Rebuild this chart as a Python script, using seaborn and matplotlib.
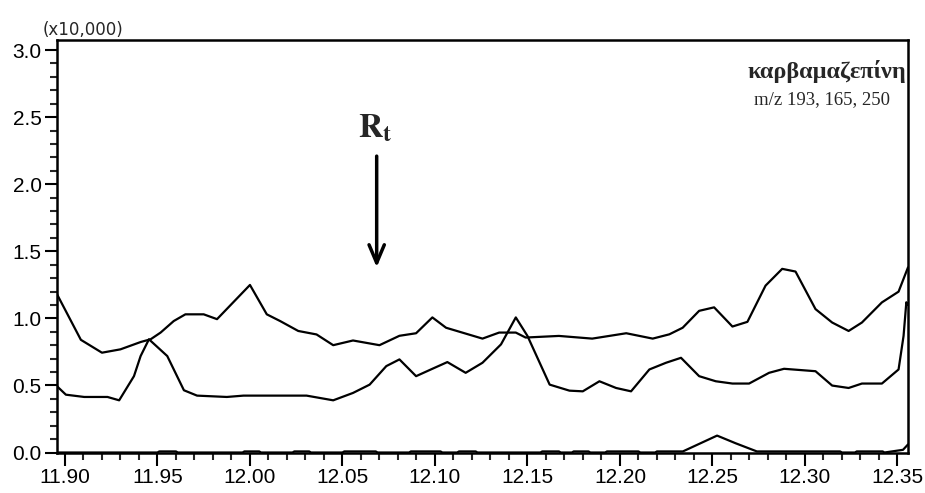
import seaborn as sns
import pandas as pd
import matplotlib.pyplot as plt
from matplotlib.ticker import MultipleLocator

# retention time (min) and intensity (x10,000)
time_a = [11.8957, 11.9086, 11.920, 11.930, 11.941, 11.9463, 11.9517, 11.9588, 11.9651,
          11.975, 11.9822, 12.000, 12.0091, 12.0163, 12.0261, 12.036, 12.045, 12.0557,
          12.070, 12.0808, 12.0898, 12.0986, 12.106, 12.1257, 12.1347, 12.1437, 12.149,
          12.167, 12.185, 12.2034, 12.2177, 12.2267, 12.2339, 12.2428, 12.2509, 12.2608,
          12.2689, 12.2787, 12.2877, 12.2949, 12.3057, 12.3147, 12.3236, 12.3308, 12.3416,
          12.3506, 12.3557]
int_a = [1.18, 0.84, 0.744, 0.769, 0.824, 0.844, 0.894, 0.98, 1.03,
         1.03, 0.994, 1.249, 1.03, 0.98, 0.906, 0.88, 0.80, 0.835,
         0.80, 0.87, 0.889, 1.007, 0.93, 0.849, 0.894, 0.894, 0.857,
         0.869, 0.849, 0.889, 0.849, 0.881, 0.93, 1.056, 1.082, 0.939,
         0.974, 1.244, 1.369, 1.349, 1.069, 0.969, 0.906, 0.969, 1.119,
         1.199, 1.38]

time_b = [11.8957, 11.9005, 11.9104, 11.923, 11.9293, 11.9373, 11.9409, 11.9454, 11.9553,
          11.9643, 11.9714, 11.9875, 11.9965, 12.0306, 12.045, 12.0557, 12.0647, 12.0737,
          12.0808, 12.0898, 12.0986, 12.1067, 12.1166, 12.1257, 12.1357, 12.1437, 12.150,
          12.162, 12.1727, 12.1799, 12.1889, 12.1979, 12.206, 12.2159, 12.2249, 12.2330,
          12.2428, 12.2518, 12.2608, 12.2698, 12.2806, 12.2887, 12.3057, 12.3147, 12.3236,
          12.3308, 12.3416, 12.3506, 12.3533, 12.3548, 12.3557]
int_b = [0.494, 0.431, 0.414, 0.414, 0.389, 0.569, 0.719, 0.844, 0.719,
         0.464, 0.424, 0.414, 0.424, 0.424, 0.389, 0.444, 0.506, 0.644,
         0.694, 0.569, 0.624, 0.674, 0.594, 0.669, 0.806, 1.007, 0.869,
         0.506, 0.461, 0.456, 0.531, 0.481, 0.456, 0.619, 0.669, 0.706,
         0.569, 0.531, 0.514, 0.514, 0.594, 0.624, 0.606, 0.499, 0.481,
         0.514, 0.514, 0.619, 0.869, 1.12, 1.10]

time_c = [11.8957, 11.950, 11.951, 11.960, 11.961, 11.996, 11.997, 12.005, 12.006,
          12.023, 12.024, 12.032, 12.033, 12.050, 12.051, 12.068, 12.069, 12.086,
          12.087, 12.103, 12.104, 12.112, 12.113, 12.122, 12.123, 12.157, 12.158,
          12.167, 12.168, 12.174, 12.175, 12.183, 12.184, 12.192, 12.193, 12.210,
          12.211, 12.219, 12.220, 12.234, 12.2525, 12.2625, 12.2740, 12.319, 12.320,
          12.327, 12.328, 12.342, 12.343, 12.353, 12.3557]
int_c = [0, 0, 0.008, 0.008, 0, 0, 0.008, 0.008, 0,
         0, 0.008, 0.008, 0, 0, 0.008, 0.008, 0, 0,
         0.008, 0.008, 0, 0, 0.008, 0.008, 0, 0, 0.008,
         0.008, 0, 0, 0.008, 0.008, 0, 0, 0.008, 0.008,
         0, 0, 0.008, 0.008, 0.126, 0.069, 0.008, 0.008, 0,
         0, 0.008, 0.008, 0, 0.02, 0.06]

x_ticks = [11.90, 11.95, 12.00, 12.05, 12.10, 12.15, 12.20, 12.25, 12.30, 12.35]
y_ticks = [0.0, 0.5, 1.0, 1.5, 2.0, 2.5, 3.0]

sns.set_style("ticks")
plt.rcParams['font.family'] = ['Liberation Sans', 'DejaVu Sans']
plt.rcParams['mathtext.fontset'] = 'stix'

fig = plt.figure(figsize=(9.25, 4.93), dpi=100)
ax = fig.add_axes([57 / 925, 40.5 / 493, 851 / 925, 412.5 / 493])

for t, v in [(time_a, int_a), (time_b, int_b), (time_c, int_c)]:
    df = pd.DataFrame({'t': t, 'v': v})
    sns.lineplot(data=df, x='t', y='v', ax=ax, color='black', lw=1.6,
                 estimator=None, sort=False)

ax.set_xlim(11.8957, 12.3557)
ax.set_ylim(0, 3.075)
ax.set_xticks(x_ticks)
ax.set_xticklabels([f'{x:.2f}' for x in x_ticks])
ax.set_yticks(y_ticks)
ax.set_yticklabels([f'{y:.1f}' for y in y_ticks])
ax.xaxis.set_minor_locator(MultipleLocator(0.01))
ax.yaxis.set_minor_locator(MultipleLocator(0.1))
ax.tick_params(which='major', direction='out', length=9, width=1.5, labelsize=15,
               colors='black', pad=2)
ax.tick_params(which='minor', direction='out', length=5, width=1.5)
ax.set_xlabel('')
ax.set_ylabel('')
for s in ax.spines.values():
    s.set_linewidth(1.8)
    s.set_color('black')

fig.text(43 / 925, 1 - 30 / 493, '(x10,000)', fontsize=12, family='DejaVu Sans',
         va='center', ha='left')

ax.text(12.3545, 2.79, 'καρβαμαζεπίνη', family='Liberation Serif', fontweight='bold',
        fontsize=17.5, ha='right', va='baseline')
ax.text(12.346, 2.60, 'm/z 193, 165, 250', family='Liberation Serif',
        fontsize=13.5, ha='right', va='baseline')

ax.text(12.068, 2.42, r'$\mathbf{R_t}$', fontsize=24, ha='center', va='center')
ax.annotate('', xy=(12.0685, 1.36), xytext=(12.0685, 2.23),
            arrowprops=dict(arrowstyle='->,head_length=1.3,head_width=0.55',
                            lw=2.5, color='black'))

fig.savefig('out.png', dpi=100)
